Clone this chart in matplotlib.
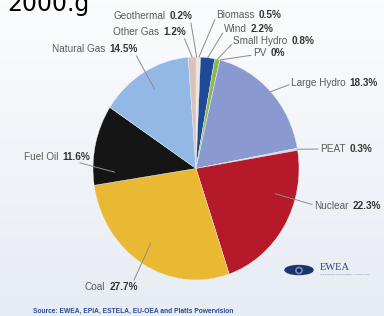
import matplotlib
matplotlib.use("Agg")
import matplotlib.pyplot as plt
import numpy as np
from matplotlib.offsetbox import TextArea, HPacker, AnnotationBbox
from matplotlib.patches import Ellipse, Circle

# data, clockwise from 12 o'clock
sources = ["Geothermal", "Biomass", "Wind", "Small Hydro", "PV", "Large Hydro",
           "PEAT", "Nuclear", "Coal", "Fuel Oil", "Natural Gas", "Other Gas"]
shares = [0.2, 0.5, 2.2, 0.8, 0.0, 18.3, 0.3, 22.3, 27.7, 11.6, 14.5, 1.2]
share_labels = ["0.2%", "0.5%", "2.2%", "0.8%", "0%", "18.3%",
                "0.3%", "22.3%", "27.7%", "11.6%", "14.5%", "1.2%"]
colors = ["#e3d3ca", "#ece6dc", "#1f4a9a", "#86bd4a", "#c9d3e6", "#8a9ad0",
          "#cfd6e6", "#b5192a", "#e9b934", "#151515", "#94b8e6", "#d9c2b9"]

title = "2000.g"
source_note = "Source: EWEA, EPIA, ESTELA, EU-OEA and Platts Powervision"

W, H = 384, 316
fig = plt.figure(figsize=(W / 100, H / 100), dpi=100)

bg = fig.add_axes([0, 0, 1, 1])
bg.set_xlim(0, W)
bg.set_ylim(H, 0)
bg.axis("off")
grad = np.linspace(0, 1, 100)[:, None]
bg.imshow(grad, extent=(0, W, H, 0), aspect="auto", zorder=0,
          cmap=matplotlib.colors.LinearSegmentedColormap.from_list("bg", ["#fbfcfe", "#e7ecf3"]))

# pie drawn in its own axes so it can be slightly oval like the source
px0, px1, py0, py1 = 93, 299, 57, 280
pie_ax = fig.add_axes([px0 / W, 1 - py1 / H, (px1 - px0) / W, (py1 - py0) / H])
wedges, _ = pie_ax.pie(shares, colors=colors, startangle=90, counterclock=False,
                       wedgeprops=dict(linewidth=0.3, edgecolor="#f0f0f0"))
pie_ax.set_aspect("auto")
pie_ax.set_xlim(-1, 1)
pie_ax.set_ylim(-1, 1)
pie_ax.axis("off")

# label layout: (text x, text y, side, relpos, t along wedge (clockwise), r)
layout = {
    "Geothermal": (193, 16, "right", (0.97, 0.0), 0.5, 1.0),
    "Biomass": (216, 15, "left", (0.0, 0.3), 0.5, 1.0),
    "Wind": (224, 29, "left", (0.0, 0.3), 0.5, 1.0),
    "Small Hydro": (233, 41, "left", (0.0, 0.3), 0.5, 1.0),
    "PV": (253, 53, "left", (0.0, 0.3), 0.5, 1.0),
    "Large Hydro": (291, 83, "left", (0.0, 0.4), 0.5, 1.0),
    "PEAT": (320, 149, "left", (0.0, 0.5), 0.5, 1.0),
    "Nuclear": (314, 206, "left", (0.0, 0.6), 0.32, 0.8),
    "Coal": (138, 287, "right", (0.9, 0.9), 0.52, 0.8),
    "Fuel Oil": (90, 157, "right", (0.8, 0.0), 0.15, 0.79),
    "Natural Gas": (138, 49, "right", (0.97, 0.0), 0.52, 0.82),
    "Other Gas": (186, 32, "right", (0.97, 0.0), 0.5, 1.0),
}

fam = "Liberation Sans"
for w, name, pct in zip(wedges, sources, share_labels):
    tx, ty, side, relpos, t, r = layout[name]
    # wedges run clockwise, so walk back from theta2
    th = np.deg2rad(w.theta2 - (w.theta2 - w.theta1) * t)
    xy = (r * np.cos(th), r * np.sin(th))
    box = HPacker(children=[
        TextArea(name, textprops=dict(family=fam, size=7.2, color="#5c5c5c")),
        TextArea(pct, textprops=dict(family=fam, size=7.2, color="#353535", weight="bold")),
    ], sep=3, pad=0, align="baseline")
    ab = AnnotationBbox(box, xy, xycoords=pie_ax.transData,
                        xybox=(tx, ty), boxcoords=bg.transData,
                        box_alignment=(0, 0.5) if side == "left" else (1, 0.5),
                        frameon=False, pad=0, annotation_clip=False,
                        arrowprops=dict(arrowstyle="-", color="#8c8c8c", lw=0.7,
                                        shrinkA=1, shrinkB=0, relpos=relpos))
    fig.add_artist(ab)

bg.text(7, 11, title, fontsize=17, color="black", va="baseline", ha="left",
        family="DejaVu Sans", zorder=5)
bg.text(33, 311, source_note, fontsize=4.8, color="#2a4a9a", va="center", ha="left",
        family=fam, weight="bold", zorder=5)

# EWEA logo
bg.add_patch(Ellipse((299, 270), 28, 9, color="#1c3370", zorder=5))
bg.add_patch(Circle((299, 270.5), 3.2, color="#6f86b8", zorder=6))
bg.add_patch(Circle((299, 270.5), 1.4, color="#13254f", zorder=7))
bg.text(320, 267.5, "EWEA", fontsize=7.5, color="#2b3f80", family="Liberation Serif",
        va="center", ha="left", zorder=5)
bg.text(320, 274.5, "THE EUROPEAN WIND ENERGY ASSOCIATION", fontsize=1.6,
        color="#6a7aa8", family=fam, va="center", ha="left", zorder=5)

fig.savefig("out.png", dpi=100)
